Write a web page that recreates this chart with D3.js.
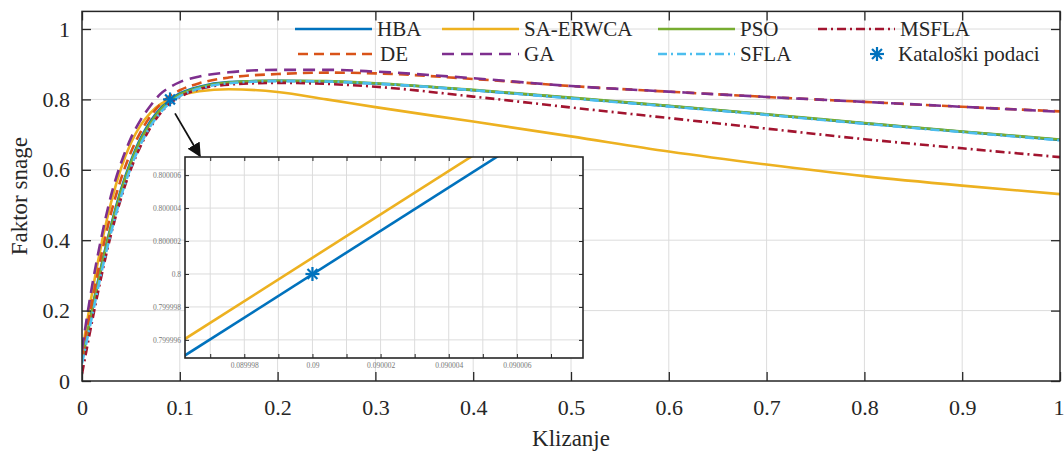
<!DOCTYPE html>
<html>
<head>
<meta charset="utf-8">
<script src="https://cdn.jsdelivr.net/npm/d3@7"></script>
<style>
  body { margin: 0; background: #fff; }
</style>
</head>
<body>
<div id="chart"></div>
<script>
// slip values (x) shared by every series
var slip = [0, 0.01, 0.02, 0.03, 0.04, 0.05, 0.06, 0.07, 0.08, 0.09, 0.1, 0.12, 0.15, 0.2, 0.25, 0.3, 0.4, 0.5, 0.6, 0.7, 0.8, 0.9, 1.0];

// power factor per method
var hba     = [0.06, 0.2, 0.33, 0.445, 0.545, 0.625, 0.69, 0.738, 0.774, 0.8, 0.817, 0.836, 0.849, 0.853, 0.851, 0.845, 0.826, 0.804, 0.781, 0.757, 0.732, 0.708, 0.685];
var saErwca = [0.08, 0.245, 0.39, 0.51, 0.605, 0.676, 0.727, 0.762, 0.786, 0.8, 0.811, 0.823, 0.829, 0.821, 0.8, 0.778, 0.737, 0.695, 0.652, 0.615, 0.582, 0.555, 0.531];
var pso     = [0.06, 0.195, 0.325, 0.44, 0.54, 0.62, 0.685, 0.733, 0.77, 0.796, 0.814, 0.834, 0.848, 0.853, 0.852, 0.846, 0.827, 0.805, 0.782, 0.758, 0.733, 0.709, 0.686];
var msfla   = [0.02, 0.165, 0.3, 0.42, 0.52, 0.602, 0.668, 0.72, 0.76, 0.789, 0.807, 0.829, 0.842, 0.847, 0.844, 0.836, 0.808, 0.777, 0.747, 0.717, 0.687, 0.661, 0.636];
var de      = [0.07, 0.22, 0.36, 0.48, 0.575, 0.65, 0.708, 0.752, 0.786, 0.81, 0.826, 0.846, 0.862, 0.872, 0.876, 0.874, 0.858, 0.838, 0.822, 0.807, 0.793, 0.779, 0.766];
var ga      = [0.09, 0.265, 0.41, 0.53, 0.62, 0.69, 0.742, 0.782, 0.815, 0.835, 0.849, 0.865, 0.877, 0.884, 0.884, 0.879, 0.86, 0.838, 0.822, 0.807, 0.793, 0.779, 0.765];
var sfla    = [0.05, 0.18, 0.31, 0.425, 0.525, 0.607, 0.673, 0.724, 0.762, 0.79, 0.809, 0.831, 0.846, 0.852, 0.851, 0.845, 0.826, 0.803, 0.78, 0.756, 0.731, 0.707, 0.684];

// catalogue point
var catalogX = [0.09];
var catalogY = [0.8];

// zoomed inset: two lines close to the catalogue point
var insetX        = [0.089995, 0.090007];
var insetHbaY     = [0.7999934, 0.8000092];
var insetSaErwcaY = [0.7999944, 0.8000102];

var xTicks = [0, 0.1, 0.2, 0.3, 0.4, 0.5, 0.6, 0.7, 0.8, 0.9, 1];
var yTicks = [0, 0.2, 0.4, 0.6, 0.8, 1];
var insetXTicks = [0.089997, 0.089998, 0.089999, 0.09, 0.090001, 0.090002, 0.090003, 0.090004, 0.090005, 0.090006, 0.090007];
var insetXLabels = ["", "0.089998", "", "0.09", "", "0.090002", "", "0.090004", "", "0.090006", ""];
var insetYTicks = [0.799996, 0.799998, 0.8, 0.800002, 0.800004, 0.800006];
var insetYLabels = ["0.799996", "0.799998", "0.8", "0.800002", "0.800004", "0.800006"];

var series = [
  {name: "HBA", values: hba, color: "#0072BD", dash: null},
  {name: "SA-ERWCA", values: saErwca, color: "#EDB120", dash: null},
  {name: "PSO", values: pso, color: "#77AC30", dash: null},
  {name: "MSFLA", values: msfla, color: "#A2142F", dash: "9,4,2,4"},
  {name: "DE", values: de, color: "#D95319", dash: "10,6"},
  {name: "GA", values: ga, color: "#7E2F8E", dash: "12,7"},
  {name: "SFLA", values: sfla, color: "#4DBEEE", dash: "9,4,2,4"}
];

var W = 1064, H = 453;
var svg = d3.select("#chart").append("svg")
  .attr("width", W).attr("height", H);

//MAIN AXES
var plot = {left: 82, right: 1060, top: 11.4, bottom: 381};

var xScale = d3.scaleLinear().domain([0, 1]).range([plot.left, plot.right]);
var yScale = d3.scaleLinear().domain([0, 1.05]).range([plot.bottom, plot.top]);

var axisColor = "#262626";
var gridColor = "#dcdcdc";

//GRID
svg.append("g").selectAll("line.gx").data(xTicks.slice(1, -1)).enter().append("line")
  .attr("x1", function(d) { return xScale(d); }).attr("x2", function(d) { return xScale(d); })
  .attr("y1", plot.top).attr("y2", plot.bottom)
  .attr("stroke", gridColor).attr("stroke-width", 1);
svg.append("g").selectAll("line.gy").data(yTicks.slice(1)).enter().append("line")
  .attr("x1", plot.left).attr("x2", plot.right)
  .attr("y1", function(d) { return yScale(d); }).attr("y2", function(d) { return yScale(d); })
  .attr("stroke", gridColor).attr("stroke-width", 1);

//LINES
svg.append("clipPath").attr("id", "clipMain").append("rect")
  .attr("x", plot.left).attr("y", plot.top)
  .attr("width", plot.right - plot.left).attr("height", plot.bottom - plot.top);

var line = d3.line()
  .x(function(d) { return xScale(d[0]); })
  .y(function(d) { return yScale(d[1]); })
  .curve(d3.curveMonotoneX);

var lines = svg.append("g").attr("clip-path", "url(#clipMain)");
series.forEach(function(s) {
  lines.append("path")
    .datum(slip.map(function(x, i) { return [x, s.values[i]]; }))
    .attr("d", line)
    .attr("fill", "none")
    .attr("stroke", s.color)
    .attr("stroke-width", 2.6)
    .attr("stroke-dasharray", s.dash);
});

//ASTERISK MARKER
function asterisk(g, cx, cy, r, color, w) {
  [0, 45, 90, 135].forEach(function(a) {
    var rad = a * Math.PI / 180;
    g.append("line")
      .attr("x1", cx - r * Math.cos(rad)).attr("y1", cy - r * Math.sin(rad))
      .attr("x2", cx + r * Math.cos(rad)).attr("y2", cy + r * Math.sin(rad))
      .attr("stroke", color).attr("stroke-width", w);
  });
}
catalogX.forEach(function(x, i) {
  asterisk(svg, xScale(x), yScale(catalogY[i]), 7, "#0072BD", 2.2);
});

//FRAME AND TICKS
svg.append("rect")
  .attr("x", plot.left).attr("y", plot.top)
  .attr("width", plot.right - plot.left).attr("height", plot.bottom - plot.top)
  .attr("fill", "none").attr("stroke", axisColor).attr("stroke-width", 1.5);

var xAxis = d3.axisBottom(xScale).tickValues(xTicks).tickSize(-9).tickPadding(18)
  .tickFormat(d3.format("~g"));
var gx = svg.append("g").attr("transform", "translate(0," + plot.bottom + ")").call(xAxis);
svg.append("g").attr("transform", "translate(0," + plot.top + ")")
  .call(d3.axisTop(xScale).tickValues(xTicks).tickSize(-9).tickFormat(""));
// last label sits on the right edge of the picture
gx.selectAll(".tick text").filter(function(d) { return d === 1; })
  .attr("text-anchor", "end").attr("dx", 4);

var yAxis = d3.axisLeft(yScale).tickValues(yTicks).tickSize(-9).tickPadding(12)
  .tickFormat(d3.format("~g"));
svg.append("g").attr("transform", "translate(" + plot.left + ",0)").call(yAxis);
svg.append("g").attr("transform", "translate(" + plot.right + ",0)")
  .call(d3.axisRight(yScale).tickValues(yTicks).tickSize(-9).tickFormat(""));

svg.selectAll(".domain").remove();
svg.selectAll(".tick line").attr("stroke", axisColor).attr("stroke-width", 1.3);
svg.selectAll(".tick text").attr("fill", axisColor).style("font-size", "22px");

svg.append("text")
  .attr("x", (plot.left + plot.right) / 2).attr("y", 446)
  .attr("text-anchor", "middle").attr("fill", axisColor)
  .style("font-size", "23px").text("Klizanje");

svg.append("text")
  .attr("transform", "translate(27," + ((plot.top + plot.bottom) / 2) + ") rotate(-90)")
  .attr("text-anchor", "middle").attr("fill", axisColor)
  .style("font-size", "23px").text("Faktor snage");

//LEGEND
var legendItems = [
  {s: series[0], x: 295, y: 29}, {s: series[1], x: 442, y: 29},
  {s: series[2], x: 658, y: 29}, {s: series[3], x: 818, y: 29},
  {s: series[4], x: 298, y: 54}, {s: series[5], x: 442, y: 54},
  {s: series[6], x: 658, y: 54}
];
var legend = svg.append("g");
legendItems.forEach(function(it) {
  legend.append("line")
    .attr("x1", it.x).attr("x2", it.x + 77)
    .attr("y1", it.y).attr("y2", it.y)
    .attr("stroke", it.s.color).attr("stroke-width", 2.6)
    .attr("stroke-dasharray", it.s.dash);
  legend.append("text")
    .attr("x", it.x + 82).attr("y", it.y + 7)
    .attr("fill", axisColor).style("font-size", "21px")
    .text(it.s.name);
});
asterisk(legend, 877, 54, 7, "#0072BD", 2.2);
legend.append("text")
  .attr("x", 898).attr("y", 61)
  .attr("fill", axisColor).style("font-size", "21px")
  .text("Kataloški podaci");

//INSET
var inset = {left: 185, right: 583, top: 157, bottom: 358};
var ixScale = d3.scaleLinear().domain([0.08999626, 0.09000794]).range([inset.left, inset.right]);
var iyScale = d3.scaleLinear().domain([0.7999949, 0.8000071]).range([inset.bottom, inset.top]);

//ARROW
svg.append("defs").append("marker")
  .attr("id", "arrowHead").attr("viewBox", "0 0 10 10")
  .attr("refX", 9).attr("refY", 5)
  .attr("markerWidth", 14).attr("markerHeight", 14)
  .attr("markerUnits", "userSpaceOnUse")
  .attr("orient", "auto")
  .append("path").attr("d", "M0,0 L10,5 L0,10 z").attr("fill", "#111");

svg.append("line")
  .attr("x1", xScale(catalogX[0]) + 5).attr("y1", yScale(catalogY[0]) + 14)
  .attr("x2", inset.left + 15).attr("y2", inset.top - 1)
  .attr("stroke", "#111").attr("stroke-width", 1.8)
  .attr("marker-end", "url(#arrowHead)");

var ig = svg.append("g");
ig.append("rect")
  .attr("x", inset.left).attr("y", inset.top)
  .attr("width", inset.right - inset.left).attr("height", inset.bottom - inset.top)
  .attr("fill", "#fff");

ig.selectAll("line.igx").data(insetXTicks).enter().append("line")
  .attr("x1", function(d) { return ixScale(d); }).attr("x2", function(d) { return ixScale(d); })
  .attr("y1", inset.top).attr("y2", inset.bottom)
  .attr("stroke", gridColor).attr("stroke-width", 1);
ig.selectAll("line.igy").data(insetYTicks).enter().append("line")
  .attr("x1", inset.left).attr("x2", inset.right)
  .attr("y1", function(d) { return iyScale(d); }).attr("y2", function(d) { return iyScale(d); })
  .attr("stroke", gridColor).attr("stroke-width", 1);

ig.append("clipPath").attr("id", "clipInset").append("rect")
  .attr("x", inset.left).attr("y", inset.top)
  .attr("width", inset.right - inset.left).attr("height", inset.bottom - inset.top);

var iline = d3.line()
  .x(function(d) { return ixScale(d[0]); })
  .y(function(d) { return iyScale(d[1]); });

var ilines = ig.append("g").attr("clip-path", "url(#clipInset)");
[[insetHbaY, "#0072BD"], [insetSaErwcaY, "#EDB120"]].forEach(function(p) {
  ilines.append("path")
    .datum(insetX.map(function(x, i) { return [x, p[0][i]]; }))
    .attr("d", iline)
    .attr("fill", "none").attr("stroke", p[1]).attr("stroke-width", 2.6);
});
asterisk(ig, ixScale(catalogX[0]), iyScale(catalogY[0]), 7, "#0072BD", 2.2);

ig.append("rect")
  .attr("x", inset.left).attr("y", inset.top)
  .attr("width", inset.right - inset.left).attr("height", inset.bottom - inset.top)
  .attr("fill", "none").attr("stroke", axisColor).attr("stroke-width", 1.6);

var ixAxis = d3.axisBottom(ixScale).tickValues(insetXTicks).tickSize(-4).tickPadding(5)
  .tickFormat(function(d, i) { return insetXLabels[i]; });
ig.append("g").attr("transform", "translate(0," + inset.bottom + ")").call(ixAxis);
ig.append("g").attr("transform", "translate(0," + inset.top + ")")
  .call(d3.axisTop(ixScale).tickValues(insetXTicks).tickSize(-4).tickFormat(""));

var iyAxis = d3.axisLeft(iyScale).tickValues(insetYTicks).tickSize(-4).tickPadding(4)
  .tickFormat(function(d, i) { return insetYLabels[i]; });
ig.append("g").attr("transform", "translate(" + inset.left + ",0)").call(iyAxis);
ig.append("g").attr("transform", "translate(" + inset.right + ",0)")
  .call(d3.axisRight(iyScale).tickValues(insetYTicks).tickSize(-4).tickFormat(""));

ig.selectAll(".domain").remove();
ig.selectAll(".tick line").attr("stroke", axisColor).attr("stroke-width", 1);
ig.selectAll(".tick text").attr("fill", "#777").style("font-size", "7.5px");

// serif face for every text, set on the element itself
svg.selectAll("text").style("font-family", "'Liberation Serif'");
</script>
</body>
</html>
